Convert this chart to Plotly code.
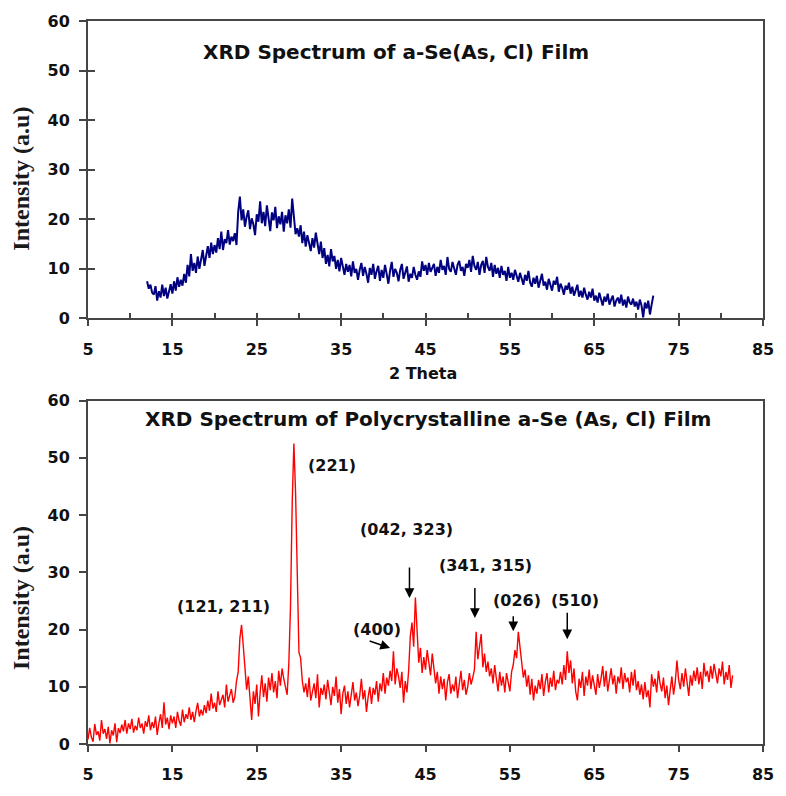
import plotly.graph_objects as go

# ---------------- data ----------------
amor_start, amor_step = 12.0, 0.2
amor_intensity = [
    7.5, 6.0, 6.8, 5.2, 4.8, 6.5, 3.6, 5.5, 4.2, 6.8,
    4.5, 6.2, 4.0, 5.8, 6.9, 5.0, 7.5, 5.6, 8.3, 6.4,
    7.8, 6.6, 9.0, 7.2, 10.8, 8.5, 13.0, 9.6, 11.2, 9.2,
    12.5, 10.0, 11.8, 13.8, 10.6, 12.9, 14.6, 12.2, 15.3, 13.0,
    14.8, 13.3, 16.2, 14.0, 17.5, 13.8, 16.0, 15.2, 17.8, 14.9,
    16.5, 15.6, 17.2, 14.8, 21.5, 24.6, 19.8, 22.0, 18.5, 20.5,
    21.8, 18.0, 20.2, 19.0, 16.8, 21.0, 19.5, 23.6, 19.2, 21.5,
    18.6, 22.8, 20.0, 17.6, 21.4, 19.8, 22.5, 18.2, 20.6, 19.0,
    21.5, 17.5, 20.8, 19.2, 22.0, 18.3, 24.2, 20.5, 17.0, 18.2,
    16.5, 18.8, 15.2, 17.5, 14.5, 16.8, 15.0, 13.6, 16.2, 14.3,
    17.3, 14.8, 13.0, 15.5, 12.2, 14.2, 11.0, 12.8, 10.5, 14.0,
    11.5, 12.6, 10.0, 11.8, 9.5, 12.2, 10.2, 8.8, 11.0, 9.4,
    10.8, 8.5, 11.5, 9.2, 10.0, 7.8, 9.8, 11.2, 8.6, 10.4,
    9.0, 7.2, 10.2, 8.8, 11.0, 8.0, 9.5, 10.6, 7.6, 9.8,
    8.2, 10.8, 9.0, 7.0, 9.6, 11.4, 8.4, 10.0, 9.2, 7.5,
    9.8, 11.0, 8.0, 9.4, 10.5, 7.4, 9.0, 8.2, 10.4, 8.8,
    7.8, 9.5, 8.4, 11.5, 9.6, 10.8, 8.8, 11.2, 9.4, 10.2,
    11.0, 8.6, 10.4, 9.2, 11.8, 9.8, 10.6, 8.8, 12.4, 10.0,
    9.4, 11.4, 10.2, 8.8, 10.8, 11.6, 9.6, 10.4, 8.6, 11.0,
    10.2, 11.8, 9.4, 12.6, 10.6, 9.8, 11.4, 8.8, 10.8, 11.6,
    9.2, 12.4, 10.4, 9.6, 11.2, 8.4, 10.8, 9.0, 10.2, 8.2,
    10.6, 8.8, 9.6, 7.6, 10.4, 8.2, 9.2, 7.8, 9.8, 8.4,
    7.4, 9.2, 8.0, 6.8, 8.8, 7.6, 9.6, 7.2, 6.4, 8.2,
    7.0, 8.6, 6.2, 7.8, 9.0, 6.6, 7.4, 5.8, 8.0, 6.8,
    5.6, 7.6, 6.8, 8.4, 5.4, 7.0, 6.2, 4.8, 6.6, 5.8,
    7.2, 5.0, 6.4, 4.6, 5.8, 6.8, 4.4, 5.6, 4.2, 6.2,
    4.8, 3.8, 5.4, 4.2, 6.0, 3.6, 4.6, 3.2, 5.2, 4.0,
    2.6, 4.4, 3.4, 5.0, 2.8, 3.8, 4.6, 2.4, 3.6, 4.2,
    3.0, 4.8, 2.6, 3.8, 2.2, 4.4, 3.2, 2.8, 4.0, 2.4,
    3.4, 1.8, 3.8, 2.6, 0.2, 3.2, 2.0, 3.6, 0.8, 2.8,
    4.6,
]

poly_start, poly_step = 5.0, 0.2
poly_intensity = [
    0.8, 2.8, 1.2, 0.4, 3.5, 1.6, 2.2, 0.6, 4.2, 1.8,
    2.6, 0.9, 3.0, 0.1, 2.4, 1.5, 3.6, 0.3, 2.8, 1.9,
    3.4, 2.2, 4.2, 1.8, 3.6, 2.6, 4.4, 2.0, 3.2, 2.4,
    4.6, 2.8, 3.6, 1.8, 4.0, 3.0, 5.0, 2.4, 3.8, 2.8,
    4.8, 1.6, 3.6, 5.2, 2.8, 7.3, 3.4, 4.6, 2.6, 5.0,
    3.6, 4.8, 2.8, 5.6, 4.0, 3.2, 6.0, 3.8, 5.2, 4.4,
    6.4, 4.2, 5.6, 3.8, 5.8, 7.2, 4.8, 6.0, 5.0, 6.8,
    5.4, 7.6, 5.8, 8.8, 6.2, 7.2, 5.6, 9.2, 6.8, 7.8,
    8.6, 6.4, 10.4, 7.4, 8.8, 9.6, 7.2, 8.2, 11.0, 12.6,
    18.5, 20.8, 17.2, 12.5, 9.5, 11.8, 7.8, 4.2, 9.2, 7.0,
    10.4, 4.8, 9.0, 12.0, 8.2, 10.6, 7.4, 11.6, 9.4, 12.4,
    9.0, 11.0, 8.0, 12.8, 10.2, 13.2, 11.4, 9.8, 8.6, 14.0,
    24.0, 42.0, 52.5, 44.0, 30.0, 16.0, 15.0, 11.0, 9.0, 10.6,
    8.2, 11.6, 7.6, 9.4, 10.6, 8.0, 12.2, 6.4, 9.8, 8.6,
    10.4, 7.8, 11.2, 9.0, 6.8, 10.0, 8.4, 11.8, 7.2, 9.6,
    5.2, 8.8, 10.2, 7.0, 9.2, 6.4, 8.6, 10.8, 7.6, 9.0,
    6.6, 8.4, 11.4, 7.8, 9.4, 5.6, 8.2, 10.0, 7.0, 9.8,
    8.6, 11.0, 7.4, 10.6, 9.2, 12.4, 8.8, 11.6, 10.2, 12.8,
    11.0, 16.2, 10.4, 13.2, 11.8, 9.8, 12.6, 7.2, 11.0, 9.0,
    12.8, 18.8, 21.2, 17.0, 25.6, 19.4, 14.2, 16.8, 12.4, 15.2,
    13.0, 16.4, 14.4, 12.0, 15.8, 13.4, 10.6, 12.6, 8.8, 11.8,
    9.6, 11.4, 7.6, 10.8, 12.2, 8.8, 10.4, 9.2, 11.8, 8.0,
    10.6, 12.8, 9.4, 11.2, 8.6, 10.0, 12.4, 10.4, 11.6, 13.0,
    19.6, 14.8, 17.0, 19.2, 13.4, 15.8, 12.6, 14.4, 11.8, 13.2,
    10.6, 13.8, 11.4, 9.2, 12.6, 10.2, 11.8, 9.0, 12.4, 10.8,
    9.2, 12.6, 13.8, 16.4, 15.0, 19.6, 17.2, 14.4, 11.6, 13.0,
    10.0, 12.0, 8.6, 11.4, 7.6, 10.2, 8.8, 11.2, 9.6, 12.2,
    8.4, 10.8, 12.4, 9.0, 11.6, 10.0, 12.8, 9.4, 11.2, 10.6,
    12.6, 10.4, 13.8, 11.2, 16.2, 12.4, 14.6, 10.6, 13.2, 9.2,
    7.6, 11.4, 9.8, 12.6, 8.4, 11.8, 10.2, 13.0, 9.6, 12.0,
    10.6, 8.6, 12.2, 9.8, 11.4, 13.6, 10.0, 12.8, 9.2, 11.6,
    13.2, 10.4, 12.0, 8.8, 11.8, 10.6, 13.4, 9.6, 12.4, 10.8,
    11.6, 9.0, 12.6, 10.2, 13.0, 9.4, 11.0, 8.6, 10.4, 7.8,
    10.8, 8.2, 9.4, 6.4, 12.2, 10.0, 11.4, 9.0, 12.8, 10.6,
    9.2, 11.6, 8.0, 10.2, 6.8, 9.4, 11.8, 8.6, 10.8, 14.6,
    11.2, 9.6, 12.4, 10.0, 13.2, 10.8, 8.4, 12.0, 10.2, 12.8,
    11.0, 13.4, 10.4, 12.6, 9.6, 14.2, 11.8, 12.8, 10.8, 13.6,
    11.4, 14.0, 12.2, 10.6, 13.2, 11.8, 14.4, 10.4, 12.6, 11.2,
    13.8, 9.8, 12.0,
]

x_ticks = [5, 15, 25, 35, 45, 55, 65, 75, 85]
x_minor = [5, 10, 15, 20, 25, 30, 35, 40, 45, 50, 55, 60, 65, 70, 75, 80, 85]
y_ticks = [0, 10, 20, 30, 40, 50, 60]

peak_labels = ["(121, 211)", "(221)", "(042, 323)", "(400)", "(341, 315)", "(026)", "(510)"]
label_x = [21.1, 33.9, 42.8, 39.2, 52.1, 55.9, 62.7]
label_y = [24.1, 48.7, 37.4, 20.0, 31.1, 25.1, 25.1]

arrow_head_x = [43.1, 50.85, 55.4, 61.8, 40.8]
arrow_head_y = [25.5, 22.0, 19.7, 18.3, 16.75]
arrow_tail_x = [43.1, 50.85, 55.4, 61.8, 38.2]
arrow_tail_y = [31.1, 27.5, 22.6, 23.2, 18.1]

title_top = "XRD Spectrum of a-Se(As, Cl) Film"
title_bottom = "XRD Spectrum of Polycrystalline a-Se (As, Cl) Film"

# ---------------- figure ----------------
BOLD = dict(family="DejaVu Sans", size=16, color="#111111", weight="bold")
AX = "#454545"

fig = go.Figure()
fig.add_trace(go.Scatter(x0=amor_start, dx=amor_step, y=amor_intensity, mode="lines",
                         line=dict(color="#000080", width=2.0), xaxis="x", yaxis="y",
                         showlegend=False, hoverinfo="skip"))
fig.add_trace(go.Scatter(x0=poly_start, dx=poly_step, y=poly_intensity, mode="lines",
                         line=dict(color="#ff0000", width=1.4), xaxis="x2", yaxis="y2",
                         showlegend=False, hoverinfo="skip"))
# dummy trace to activate the overlay axes used for inside tick halves
fig.add_trace(go.Scatter(x=[None], y=[None], xaxis="x3", yaxis="y3",
                         showlegend=False, hoverinfo="skip"))

top_dom = [0.5886, 1.0]
bot_dom = [0.0, 0.475]

common_x = dict(range=[5, 85], showgrid=False, zeroline=False, showline=True,
                linecolor=AX, linewidth=2, mirror=True, tickmode="array",
                tickvals=x_ticks, ticks="outside", ticklen=6, tickwidth=1.5,
                tickcolor=AX, tickfont=BOLD, ticklabelstandoff=9, fixedrange=True)
common_y = dict(range=[0, 60], showgrid=False, zeroline=False, showline=True,
                linecolor=AX, linewidth=2, mirror=True, tickmode="array",
                tickvals=y_ticks, ticks="outside", ticklen=7, tickwidth=1.5,
                tickcolor=AX, tickfont=BOLD, ticklabelstandoff=6, fixedrange=True)

fig.update_layout(
    width=786, height=796,
    margin=dict(l=88, r=14, t=15, b=42),
    paper_bgcolor="white", plot_bgcolor="white",
    xaxis=dict(common_x, anchor="y"),
    yaxis=dict(common_y, anchor="x", domain=top_dom),
    xaxis2=dict(common_x, anchor="y2"),
    yaxis2=dict(common_y, anchor="x2", domain=bot_dom),
    xaxis3=dict(range=[5, 85], overlaying="x", anchor="y", showgrid=False,
                zeroline=False, showline=False, tickmode="array", tickvals=x_minor,
                ticks="inside", ticklen=5, tickwidth=1.5, tickcolor=AX,
                showticklabels=False, fixedrange=True),
    yaxis3=dict(range=[0, 60], overlaying="y", anchor="x", showgrid=False,
                zeroline=False, showline=False, tickmode="array", tickvals=y_ticks,
                ticks="inside", ticklen=7, tickwidth=1.5, tickcolor=AX,
                showticklabels=False, fixedrange=True),
)

ann = []
TITLE = dict(family="DejaVu Sans", size=20, color="#111111", weight="bold")
ann.append(dict(text=title_top, x=41.5, y=53.7, xref="x", yref="y", showarrow=False,
                font=TITLE, xanchor="center", yanchor="middle"))
ann.append(dict(text=title_bottom, x=45.35, y=56.75, xref="x2", yref="y2", showarrow=False,
                font=TITLE, xanchor="center", yanchor="middle"))
ann.append(dict(text="2 Theta", x=0.497, y=0.5129, xref="paper", yref="paper", showarrow=False,
                font=BOLD, xanchor="center", yanchor="middle"))
YT = dict(family="Liberation Serif", size=24, color="#1a1a1a", weight="bold")
ann.append(dict(text="Intensity (a.u)", x=5, y=28.2, xref="x", yref="y", xshift=-67,
                showarrow=False, textangle=-90, font=YT, xanchor="center", yanchor="middle"))
ann.append(dict(text="Intensity (a.u)", x=5, y=25.5, xref="x2", yref="y2", xshift=-67,
                showarrow=False, textangle=-90, font=YT, xanchor="center", yanchor="middle"))

for t, lx, ly in zip(peak_labels, label_x, label_y):
    ann.append(dict(text=t, x=lx, y=ly, xref="x2", yref="y2", showarrow=False,
                    font=BOLD, xanchor="center", yanchor="middle"))

for hx, hy, tx, ty in zip(arrow_head_x, arrow_head_y, arrow_tail_x, arrow_tail_y):
    ann.append(dict(text="", x=hx, y=hy, ax=tx, ay=ty, xref="x2", yref="y2",
                    axref="x2", ayref="y2", showarrow=True, arrowhead=2,
                    arrowsize=1.3, arrowwidth=1.5, arrowcolor="#000000"))

fig.update_layout(annotations=ann)
fig.write_html("out.html")
